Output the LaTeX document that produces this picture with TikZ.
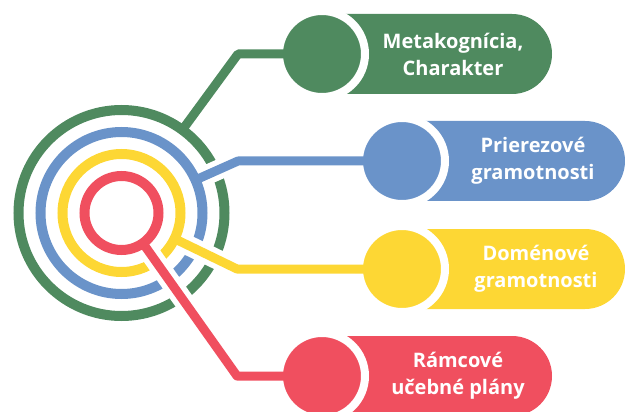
\documentclass[tikz,border=0pt]{standalone}
\usepackage{fontspec}
\setmainfont{Open Sans}
\usepackage{tikz}
\usetikzlibrary{calc}

\definecolor{grn}{HTML}{4F8A5F}
\definecolor{blu}{HTML}{6A93C9}
\definecolor{ylw}{HTML}{FDD734}
\definecolor{rd}{HTML}{F04F5F}

\tikzset{
  ring/.style={line width=10pt},
  link/.style={line width=9pt, line join=round},
  gap/.style={line width=20pt, white},
  dot/.style={circle, draw=white, line width=8pt, minimum size=86pt, inner sep=0pt},
  lbl/.style={text=white, font=\fontsize{20}{27}\selectfont\bfseries, align=center}
}

\begin{document}
\begin{tikzpicture}[x=1pt,y=-1pt]
\useasboundingbox (0,0) rectangle (625,412);

\coordinate (ctr) at (121.5,213);

% rings
\draw[ring, grn] (ctr) circle[radius=103];
\draw[ring, blu] (ctr) circle[radius=81];
\draw[ring, ylw] (ctr) circle[radius=59];
\draw[ring, rd] (ctr) circle[radius=37];

% bends
\coordinate (bG) at (238,54);
\coordinate (bB) at (238,161);
\coordinate (bY) at (237,269);
\coordinate (bR) at (237,376);

% pills
\fill[grn] (322,14) [rounded corners=40pt] -- (552,14) -- (552,94) [sharp corners] -- (322,94) -- cycle;
\fill[blu] (402,121) [rounded corners=40pt] -- (625,121) -- (625,201) [sharp corners] -- (402,201) -- cycle;
\fill[ylw] (402,229) [rounded corners=40pt] -- (625,229) -- (625,309) [sharp corners] -- (402,309) -- cycle;
\fill[rd] (322,336) [rounded corners=40pt] -- (552,336) -- (552,416) [sharp corners] -- (322,416) -- cycle;

\node[dot, fill=grn] (dG) at (322,54) {};
\node[dot, fill=blu] (dB) at (402,161) {};
\node[dot, fill=ylw] (dY) at (402,269) {};
\node[dot, fill=rd] (dR) at (322,376) {};

\node[lbl] (tG) at ([xshift=131pt]dG.center) {Metakognícia,\\Charakter};
\node[lbl] (tB) at ([xshift=131pt]dB.center) {Prierezové\\gramotnosti};
\node[lbl] (tY) at ([xshift=134pt]dY.center) {Doménové\\gramotnosti};
\node[lbl] (tR) at ([xshift=136pt]dR.center) {Rámcové\\učebné plány};

% white cuts through the outer rings
\draw[gap] ($(ctr)!88pt!(bB)$) -- (bB);
\draw[gap] ($(ctr)!66pt!(bY)$) -- (bY);
\draw[gap] ($(ctr)!44pt!(bR)$) -- (bR);

% links
\draw[link, grn] ($(ctr)!103pt!(bG)$) -- (bG) -- (dG.center);
\draw[link, blu] ($(ctr)!81pt!(bB)$) -- (bB) -- (dB.center);
\draw[link, ylw] ($(ctr)!59pt!(bY)$) -- (bY) -- (dY.center);
\draw[link, rd] ($(ctr)!37pt!(bR)$) -- (bR) -- (dR.center);
\end{tikzpicture}
\end{document}
